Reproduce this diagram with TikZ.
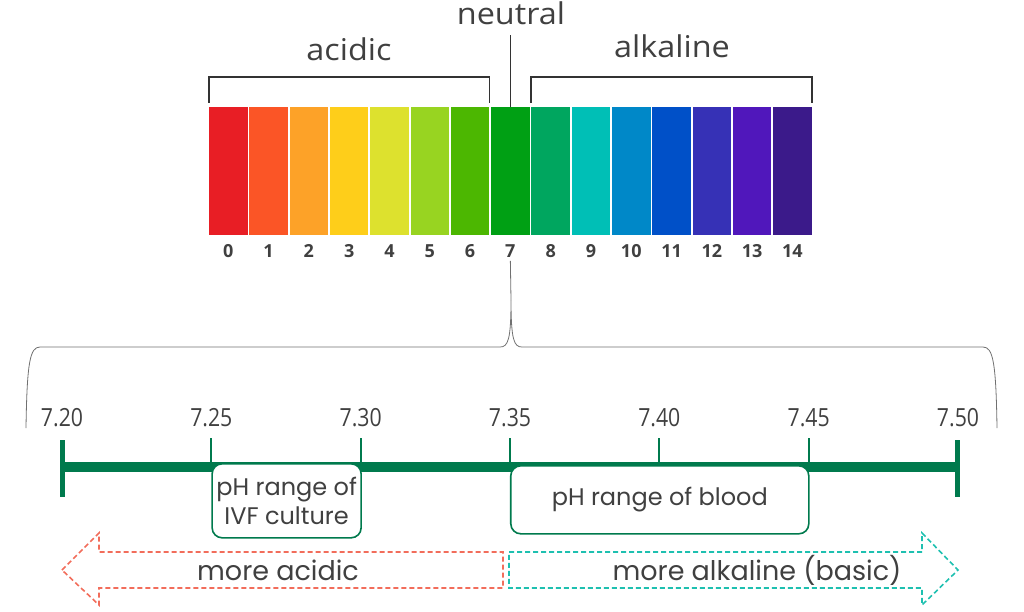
\documentclass[tikz,border=0pt]{standalone}
\usepackage{fontspec}
\usepackage{tikz}
\setmainfont{Poppins}
\newfontfamily\topfont[FakeStretch=1.08]{Open Sans}
\newfontfamily\numfont{Open Sans}
\newfontfamily\tickfont[FakeStretch=0.85]{Open Sans}
\usetikzlibrary{calc}
\definecolor{c0}{HTML}{E81E25}
\definecolor{c1}{HTML}{FB5526}
\definecolor{c2}{HTML}{FDA228}
\definecolor{c3}{HTML}{FECE1A}
\definecolor{c4}{HTML}{DDE12E}
\definecolor{c5}{HTML}{98D421}
\definecolor{c6}{HTML}{4CB701}
\definecolor{c7}{HTML}{00A014}
\definecolor{c8}{HTML}{00A65F}
\definecolor{c9}{HTML}{00BFB6}
\definecolor{c10}{HTML}{0088C8}
\definecolor{c11}{HTML}{0050C8}
\definecolor{c12}{HTML}{3631B6}
\definecolor{c13}{HTML}{5017BB}
\definecolor{c14}{HTML}{3B1A8A}
\definecolor{txtgray}{HTML}{404040}
\definecolor{brk}{HTML}{333333}
\definecolor{bracegray}{HTML}{707070}
\definecolor{scalegreen}{HTML}{007A4D}
\definecolor{acidred}{HTML}{F26D5B}
\definecolor{alkteal}{HTML}{1EC0B0}
\tikzstyle{phbar} = [rectangle, minimum width=38.5pt, minimum height=128pt, inner sep=0pt]
\tikzstyle{phnum} = [text=txtgray, font=\numfont\bfseries\fontsize{18}{20}\selectfont]
\tikzstyle{toplabel} = [text=txtgray, font=\topfont\fontsize{30}{32}\selectfont]
\tikzstyle{bracket} = [draw=brk, line width=1.6pt]
\tikzstyle{scaleline} = [draw=scalegreen, line width=10pt]
\tikzstyle{scaletick} = [draw=scalegreen, line width=2pt]
\tikzstyle{endtick} = [draw=scalegreen, line width=5pt]
\tikzstyle{ticklabel} = [text=txtgray, font=\tickfont\fontsize{25}{27}\selectfont]
\tikzstyle{rangebox} = [rectangle, rounded corners=10pt, draw=scalegreen, line width=1.6pt, fill=white, align=center, text=txtgray, font=\fontsize{24}{29}\selectfont, anchor=north west, inner sep=1pt]
\tikzstyle{dirarrow} = [line width=1.6pt, dash pattern=on 5pt off 3pt]
\tikzstyle{dirlabel} = [text=txtgray, font=\fontsize{27}{30}\selectfont]

\begin{document}
\begin{tikzpicture}[x=1pt, y=-1pt]
  \useasboundingbox (0,0) rectangle (1024,611);
  % colour bars and pH numbers
  \foreach \c [count=\i from 0] in {c0,c1,c2,c3,c4,c5,c6,c7,c8,c9,c10,c11,c12,c13,c14} {
    \node (bar\i)[phbar, fill=\c] at ({228.25+40.3*\i},171) {};
    \node (num\i)[phnum] at ({228.25+40.3*\i},251) {\i};
  }
  % brackets
  \node (acidic)[toplabel] at (349,49) {acidic};
  \node (alkaline)[toplabel] at (672,46) {alkaline};
  \node (neutral)[toplabel] at (511,13) {neutral};
  \draw [bracket] ([yshift=4pt]bar0.north west) |- ([yshift=30pt]bar6.north east) -- ([yshift=4pt]bar6.north east);
  \draw [bracket] ([yshift=4pt]bar8.north west) |- ([yshift=30pt]bar14.north east) -- ([yshift=4pt]bar14.north east);
  \draw [bracket] (bar7.north) -- (bar7.north |- 0,35);
  % zoom brace
  \coordinate (bracetip) at (511,300);
  \draw [bracegray, line width=0.8pt] (num7.south) -- (bracetip);
  \draw [bracegray, line width=0.8pt] (26,428) .. controls (27,362) and (30,347) .. (40,347) -- (500,347)
    .. controls (508,347) and (511,340) .. (bracetip)
    .. controls (511,340) and (514,347) .. (522,347) -- (983,347)
    .. controls (993,347) and (996,362) .. (997,428);
  % blood pH scale
  \foreach \v [count=\i from 0] in {7.20,7.25,7.30,7.35,7.40,7.45,7.50} {
    \coordinate (s\i) at ({62+149.33*\i},467);
    \node (t\i)[ticklabel] at ({62+149.33*\i},418) {\v};
  }
  \draw [scaleline] (s0) -- (s6);
  \foreach \i in {1,...,5} \draw [scaletick] (s\i) -- ++(0,-29);
  \draw [endtick] ([yshift=27pt]s0) -- ([yshift=-30pt]s0);
  \draw [endtick] ([yshift=27pt]s6) -- ([yshift=-30pt]s6);
  \node (ivf)[rangebox, minimum width=149pt, minimum height=74pt] at ([yshift=4pt]s1) {pH range of\\IVF culture};
  \node (blood)[rangebox, minimum width=298pt, minimum height=68pt] at ([yshift=2pt]s3) {pH range of blood};
  % direction arrows
  \coordinate (acidtip) at (62,570);
  \coordinate (alktip) at (958,570);
  \draw [dirarrow, acidred] (acidtip) -- (99,533) -- (99,552) -- (503,552) -- (503,588) -- (99,588) -- (99,605) -- cycle;
  \draw [dirarrow, alkteal] (509,552) -- (922,552) -- (922,533) -- (alktip) -- (922,605) -- (922,588) -- (509,588) -- cycle;
  \node (moreacid)[dirlabel] at (278,570) {more acidic};
  \node (morealk)[dirlabel] at (757,570) {more alkaline (basic)};
\end{tikzpicture}
\end{document}
